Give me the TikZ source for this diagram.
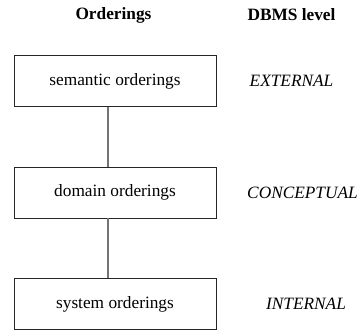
\documentclass[tikz,border=0pt]{standalone}
\usepackage{fontspec}
\setmainfont{Liberation Serif}
\begin{document}
\begin{tikzpicture}[x=1pt,y=-1pt,
  txt/.style={font=\fontsize{17.3}{20}\selectfont, inner sep=0pt},
  hdr/.style={txt, font=\fontsize{17.3}{20}\selectfont\bfseries},
  lvl/.style={txt, font=\fontsize{17.3}{20}\selectfont\itshape},
  levelbox/.style={draw=black!85, line width=0.9pt, minimum width=202pt, minimum height=51pt, inner sep=0pt, font=\fontsize{17.3}{20}\selectfont},
  link/.style={draw=black!55, line width=1.6pt}]
\useasboundingbox (0,0) rectangle (357,330);
\node[hdr] (h1) at (113.5,15) {Orderings};
\node[hdr] (h2) at (291.5,15) {DBMS level};
\node[levelbox] (b1) at (115,81) {semantic orderings};
\node[levelbox] (b2) at (115,192.5) {domain orderings};
\node[levelbox] (b3) at (115,304) {system orderings};
\node[lvl] (l1) at (291.5,81) {EXTERNAL};
\node[lvl] (l2) at (302.5,192.5) {CONCEPTUAL};
\node[lvl] (l3) at (306,304) {INTERNAL};
\draw[link] (b1.south -| 108,0) -- (b2.north -| 108,0);
\draw[link] (b2.south -| 108,0) -- (b3.north -| 108,0);
\end{tikzpicture}
\end{document}
